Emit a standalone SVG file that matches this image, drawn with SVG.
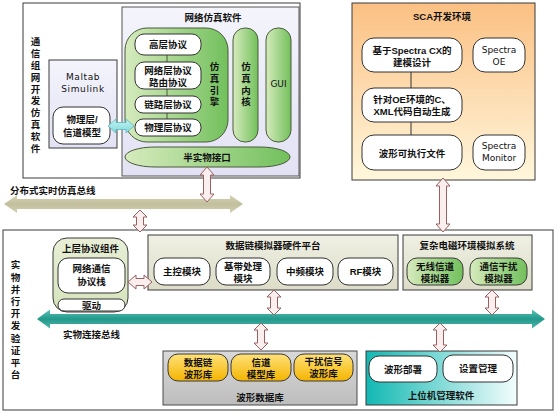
<svg xmlns="http://www.w3.org/2000/svg" width="557" height="415" viewBox="0 0 557 415">
<style>
text{font-family:"Liberation Sans","Noto Sans CJK SC",sans-serif;font-size:9.5px;font-weight:700;fill:#111;text-anchor:middle;dominant-baseline:central}
.lat{font-family:"DejaVu Sans","Liberation Sans",sans-serif;font-weight:400;font-size:9px}
.vt{writing-mode:vertical-rl;text-anchor:start}
.frame{fill:#fff;stroke:#3a3a3a;stroke-width:1}
.wb{fill:#fff;stroke:#333;stroke-width:1}
.dbl{fill:#fbeeee;stroke:#9a6060;stroke-width:1}
.vl{stroke:#4a5a3a;stroke-width:1}
.ls{text-anchor:start}
</style>
<defs>
<linearGradient id="lav" x1="0" y1="0" x2="0" y2="1"><stop offset="0" stop-color="#f4f4fc"/><stop offset="1" stop-color="#e2e2f4"/></linearGradient>
<linearGradient id="grn" x1="0" y1="0" x2="1" y2="0"><stop offset="0" stop-color="#d6ebbd"/><stop offset="1" stop-color="#72c05c"/></linearGradient>
<linearGradient id="org" x1="0" y1="0" x2="0" y2="1"><stop offset="0" stop-color="#fbc083"/><stop offset="1" stop-color="#fff7dc"/></linearGradient>
<linearGradient id="beige" x1="0" y1="0" x2="0" y2="1"><stop offset="0" stop-color="#f0f0e4"/><stop offset="1" stop-color="#dcdcc8"/></linearGradient>
<linearGradient id="lg" x1="0" y1="0" x2="0" y2="1"><stop offset="0" stop-color="#e8efd6"/><stop offset="1" stop-color="#d6e3bc"/></linearGradient>
<linearGradient id="gray" x1="0" y1="0" x2="0" y2="1"><stop offset="0" stop-color="#d8d8d8"/><stop offset="1" stop-color="#bdbdbd"/></linearGradient>
<linearGradient id="yel" x1="0" y1="0" x2="0" y2="1"><stop offset="0" stop-color="#ffe27a"/><stop offset="1" stop-color="#f4b400"/></linearGradient>
<linearGradient id="teal" x1="0" y1="0" x2="1" y2="0"><stop offset="0" stop-color="#12b8b2"/><stop offset="1" stop-color="#f4fdfd"/></linearGradient>
<linearGradient id="tbus" x1="0" y1="0" x2="0" y2="1"><stop offset="0" stop-color="#5cc2b6"/><stop offset="0.5" stop-color="#22998c"/><stop offset="1" stop-color="#4fb5a8"/></linearGradient>
<linearGradient id="kbus" x1="0" y1="0" x2="0" y2="1"><stop offset="0" stop-color="#d6d3b6"/><stop offset="0.5" stop-color="#c2bf9e"/><stop offset="1" stop-color="#d3d0b2"/></linearGradient>
<linearGradient id="cyan" x1="0" y1="0" x2="0" y2="1"><stop offset="0" stop-color="#c8f4f4"/><stop offset="1" stop-color="#7ed8da"/></linearGradient>
</defs>

<g id="sim-software">
<rect class="frame" x="23" y="3" width="277" height="175"/>
<text class="vt" x="35" y="37" letter-spacing="2.3">通信组网开发仿真软件</text>
</g>

<g id="matlab">
<rect x="49" y="60" width="68" height="88" fill="url(#lav)" stroke="#3a3a3a"/>
<text class="lat" x="83" y="77" letter-spacing="0.6"><tspan x="83">Maltab</tspan><tspan x="83" dy="12">Simulink</tspan></text>
<rect class="wb" x="53" y="107" width="57" height="37" rx="10"/>
<text x="82" y="119"><tspan x="82">物理层/</tspan><tspan x="82" dy="13">信道模型</tspan></text>
</g>

<g id="net-sim">
<rect x="122" y="7" width="177" height="169" fill="url(#lav)" stroke="#555"/>
<text x="213" y="17">网络仿真软件</text>
<rect x="125" y="28" width="103" height="114" rx="22" fill="url(#grn)" stroke="#4a5a3a"/>
<line class="vl" x1="167" y1="50" x2="167" y2="125"/>
<rect class="wb" x="135" y="34" width="66" height="21" rx="9"/>
<text x="168" y="44.5">高层协议</text>
<rect class="wb" x="135" y="62" width="66" height="27" rx="9"/>
<text x="168" y="70"><tspan x="168">网络层协议</tspan><tspan x="168" dy="12">路由协议</tspan></text>
<rect class="wb" x="135" y="96" width="66" height="17" rx="8"/>
<text x="168" y="104.5">链路层协议</text>
<rect class="wb" x="135" y="119" width="66" height="17" rx="8"/>
<text x="168" y="127.5">物理层协议</text>
<text class="vt" x="214" y="62" letter-spacing="2.2">仿真引擎</text>
<rect x="233" y="28" width="25" height="114" rx="12" fill="url(#grn)" stroke="#4a5a3a"/>
<text class="vt" x="245.5" y="62" letter-spacing="2.2">仿真内核</text>
<rect x="266" y="28" width="25" height="114" rx="12" fill="url(#grn)" stroke="#4a5a3a"/>
<text class="lat" x="278.5" y="84">GUI</text>
<rect x="125" y="147" width="165" height="20" rx="30" ry="10" fill="url(#grn)" stroke="#4a5a3a"/>
<text x="207" y="157">半实物接口</text>
</g>

<g id="sca">
<rect x="352" y="3" width="183" height="177" fill="url(#org)" stroke="#3a3a3a"/>
<text x="442" y="16">SCA开发环境</text>
<line x1="411" y1="72" x2="411" y2="135" stroke="#333"/>
<rect class="wb" x="362" y="38" width="100" height="34" rx="12"/>
<text x="412" y="50"><tspan x="412">基于Spectra CX的</tspan><tspan x="412" dy="11.5">建模设计</tspan></text>
<rect class="wb" x="473" y="38" width="52" height="34" rx="12"/>
<text class="lat" x="499" y="50"><tspan x="499">Spectra</tspan><tspan x="499" dy="12">OE</tspan></text>
<rect class="wb" x="362" y="88" width="100" height="34" rx="12"/>
<text x="412" y="99"><tspan x="412">针对OE环境的C、</tspan><tspan x="412" dy="12">XML代码自动生成</tspan></text>
<rect class="wb" x="362" y="135" width="100" height="35" rx="12"/>
<text x="412" y="153">波形可执行文件</text>
<rect class="wb" x="473" y="135" width="52" height="35" rx="12"/>
<text class="lat" x="499" y="146"><tspan x="499">Spectra</tspan><tspan x="499" dy="12">Monitor</tspan></text>
</g>

<g id="dist-bus">
<path d="M4,204 L17,195 L17,199 L230,199 L230,195 L243,204 L230,213 L230,209 L17,209 L17,213 Z" fill="url(#kbus)"/>
<text class="ls" x="10" y="190">分布式实时仿真总线</text>
</g>

<g id="platform">
<rect class="frame" x="3" y="230" width="550" height="180"/>
<text class="vt" x="15" y="260" letter-spacing="2.7">实物并行开发验证平台</text>
</g>

<g id="upper-protocol">
<rect x="53" y="238" width="75" height="74" rx="14" fill="url(#lg)" stroke="#3a3a3a"/>
<text x="90.5" y="248">上层协议组件</text>
<rect class="wb" x="58" y="258" width="67" height="35" rx="10"/>
<text x="91.5" y="268"><tspan x="91.5">网络通信</tspan><tspan x="91.5" dy="13">协议栈</tspan></text>
<rect class="wb" x="58" y="299" width="67" height="12" rx="6"/>
<text x="91.5" y="305">驱动</text>
</g>

<g id="datalink-hw">
<rect x="148" y="235" width="250" height="55" fill="url(#beige)" stroke="#3a3a3a"/>
<text x="273" y="245">数据链模拟器硬件平台</text>
<rect class="wb" x="154" y="258" width="56" height="27" rx="10"/>
<text x="182" y="271.5">主控模块</text>
<rect class="wb" x="216" y="258" width="54" height="27" rx="10"/>
<text x="243" y="266"><tspan x="243">基带处理</tspan><tspan x="243" dy="12">模块</tspan></text>
<rect class="wb" x="277" y="258" width="56" height="27" rx="10"/>
<text x="305" y="271.5">中频模块</text>
<rect class="wb" x="338" y="258" width="55" height="27" rx="10"/>
<text x="365.5" y="271.5">RF模块</text>
</g>

<g id="em-env">
<rect x="403" y="235" width="129" height="55" fill="url(#beige)" stroke="#3a3a3a"/>
<text x="467" y="245">复杂电磁环境模拟系统</text>
<rect x="407" y="258" width="56" height="27" rx="10" fill="url(#grn)" stroke="#3a3a3a"/>
<text x="435" y="266"><tspan x="435">无线信道</tspan><tspan x="435" dy="12">模拟器</tspan></text>
<rect x="470" y="258" width="57" height="27" rx="10" fill="url(#grn)" stroke="#3a3a3a"/>
<text x="498.5" y="266"><tspan x="498.5">通信干扰</tspan><tspan x="498.5" dy="12">模拟器</tspan></text>
</g>

<g id="phys-bus">
<path d="M37,319 L50,309.5 L50,314 L532,314 L532,309.5 L545,319 L532,328.5 L532,324 L50,324 L50,328.5 Z" fill="url(#tbus)"/>
<text class="ls" x="63" y="334">实物连接总线</text>
</g>

<g id="waveform-db">
<rect x="163" y="351" width="194" height="54" fill="url(#gray)" stroke="#4a4a4a"/>
<rect x="168" y="354" width="60" height="27" rx="10" fill="url(#yel)" stroke="#3a3a3a"/>
<text x="198" y="362"><tspan x="198">数据链</tspan><tspan x="198" dy="12">波形库</tspan></text>
<rect x="231" y="354" width="60" height="27" rx="10" fill="url(#yel)" stroke="#3a3a3a"/>
<text x="261" y="362"><tspan x="261">信道</tspan><tspan x="261" dy="12">模型库</tspan></text>
<rect x="294" y="354" width="59" height="27" rx="10" fill="url(#yel)" stroke="#3a3a3a"/>
<text x="323.5" y="361"><tspan x="323.5">干扰信号</tspan><tspan x="323.5" dy="12">波形库</tspan></text>
<text x="260" y="397">波形数据库</text>
</g>

<g id="host-mgmt">
<rect x="366" y="351" width="151" height="54" fill="url(#teal)" stroke="#3a3a3a"/>
<rect class="wb" x="369" y="356" width="68" height="26" rx="10"/>
<text x="403" y="369">波形部署</text>
<rect class="wb" x="443" y="355" width="70" height="27" rx="10"/>
<text x="478" y="368">设置管理</text>
<text x="441" y="395">上位机管理软件</text>
</g>

<g id="connectors">
<path class="dbl" d="M207,167 L214,175 L210.5,175 L210.5,194 L214,194 L207,202 L200,194 L203.5,194 L203.5,175 L200,175 Z"/>
<path class="dbl" d="M140,210 L147,217 L143.5,217 L143.5,225 L147,225 L140,232 L133,225 L136.5,225 L136.5,217 L133,217 Z"/>
<path class="dbl" d="M443,178 L450,186 L446.5,186 L446.5,224 L450,224 L443,232 L436,224 L439.5,224 L439.5,186 L436,186 Z"/>
<path class="dbl" d="M274,290 L281,297 L277.5,297 L277.5,308 L281,308 L274,315 L267,308 L270.5,308 L270.5,297 L267,297 Z"/>
<path class="dbl" d="M492,290 L499,297 L495.5,297 L495.5,308 L499,308 L492,315 L485,308 L488.5,308 L488.5,297 L485,297 Z"/>
<path class="dbl" d="M261,323 L268,330 L264.5,330 L264.5,343 L268,343 L261,350 L254,343 L257.5,343 L257.5,330 L254,330 Z"/>
<path class="dbl" d="M440,323 L447,330 L443.5,330 L443.5,345 L447,345 L440,352 L433,345 L436.5,345 L436.5,330 L433,330 Z"/>
<path class="dbl" d="M128,282 L136,275 L136,278.5 L144,278.5 L144,275 L152,282 L144,289 L144,285.5 L136,285.5 L136,289 Z"/>
<path d="M108,126 L116,119 L116,122.5 L126,122.5 L126,119 L134,126 L126,133 L126,129.5 L116,129.5 L116,133 Z" fill="url(#cyan)" stroke="#5ab8bc" stroke-width="0.8"/>
</g>
</svg>
